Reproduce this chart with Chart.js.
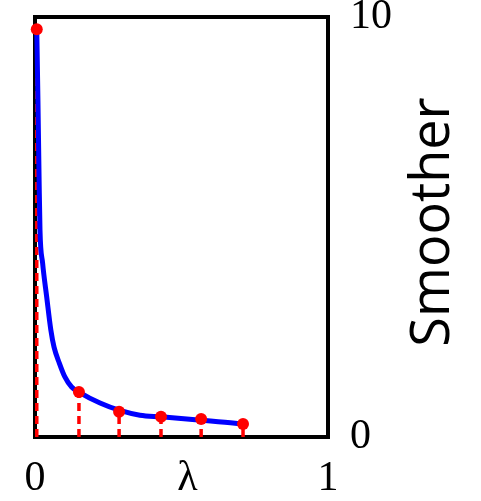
<!DOCTYPE html>
<html>
<head>
<meta charset="utf-8">
<script src="https://cdn.jsdelivr.net/npm/chart.js@4/dist/chart.umd.min.js"></script>
<style>
    html, body { margin: 0; padding: 0; background: #fff; }
    #wrap { width: 481px; height: 501px; }
</style>
</head>
<body>
<div id="wrap"><canvas id="chart"></canvas></div>
<script>
    // Sampled points (red markers with dashed drop lines)
    const pointX = [0.006, 0.15, 0.287, 0.43, 0.567, 0.71];
    const pointY = [9.71, 1.07, 0.60, 0.48, 0.43, 0.31];

    // Smoother curve (blue)
    const curveX = [0.006, 0.010, 0.014, 0.017, 0.026, 0.040, 0.054, 0.065, 0.083, 0.102, 0.125, 0.150, 0.222, 0.287, 0.358, 0.430, 0.567, 0.683, 0.710];
    const curveY = [9.71, 8.02, 6.12, 4.93, 4.14, 3.33, 2.55, 2.14, 1.76, 1.43, 1.19, 1.07, 0.81, 0.64, 0.52, 0.48, 0.40, 0.33, 0.31];

    // Tick labels
    const xTickValues = [0, 0.52, 1];
    const xTickLabels = ['0', 'λ', '1'];
    const yTickValues = [0, 10];
    const yTickLabels = ['0', '10'];
    const yTitle = 'Smoother';

    const points = pointX.map((x, i) => ({ x, y: pointY[i] }));
    const curve = curveX.map((x, i) => ({ x, y: curveY[i] }));
    const drops = [];
    pointX.forEach((x, i) => {
        drops.push({ x, y: 0 }, { x, y: pointY[i] }, { x, y: null });
    });

    const frame = {
        id: 'frame',
        beforeDatasetsDraw(chart) {
            const { ctx, chartArea: a } = chart;
            ctx.save();
            ctx.strokeStyle = '#000';
            ctx.lineWidth = 4;
            ctx.strokeRect(a.left, a.top, a.right - a.left, a.bottom - a.top);
            ctx.restore();
        },
        afterDraw(chart) {
            const { ctx } = chart;
            ctx.save();
            ctx.translate(434, 222);
            ctx.rotate(-Math.PI / 2);
            ctx.fillStyle = '#000';
            ctx.font = "54px 'Open Sans', sans-serif";
            ctx.textAlign = 'center';
            ctx.textBaseline = 'middle';
            ctx.fillText(yTitle, 0, 0);
            ctx.restore();
        }
    };

    const serif = { family: "'Liberation Serif', 'DejaVu Serif', serif", size: 42 };

    new Chart(document.getElementById('chart'), {
        type: 'scatter',
        data: {
            datasets: [
                {
                    data: points,
                    showLine: false,
                    pointRadius: 6,
                    pointBackgroundColor: '#ff0000',
                    pointBorderWidth: 0,
                    clip: false
                },
                {
                    data: curve,
                    showLine: true,
                    borderColor: '#0000ff',
                    borderWidth: 5,
                    pointRadius: 0,
                    cubicInterpolationMode: 'monotone',
                    clip: false
                },
                {
                    data: drops,
                    showLine: true,
                    spanGaps: false,
                    borderColor: '#ff0000',
                    borderWidth: 3.5,
                    borderDash: [8, 5],
                    pointRadius: 0,
                    clip: false
                }
            ]
        },
        options: {
            responsive: true,
            maintainAspectRatio: false,
            animation: false,
            layout: { padding: { left: 35, top: 17, right: 0, bottom: 0 } },
            plugins: { legend: { display: false }, tooltip: { enabled: false } },
            scales: {
                x: {
                    type: 'linear',
                    min: 0,
                    max: 1,
                    grid: { display: false, drawTicks: false },
                    border: { display: false },
                    afterBuildTicks: s => { s.ticks = xTickValues.map(v => ({ value: v })); },
                    afterFit: s => { s.height = 64; s.paddingLeft = 0; s.paddingRight = 0; },
                    ticks: {
                        color: '#000',
                        font: serif,
                        padding: 17,
                        maxRotation: 0,
                        autoSkip: false,
                        callback: v => xTickLabels[xTickValues.indexOf(v)]
                    }
                },
                y: {
                    type: 'linear',
                    position: 'right',
                    min: 0,
                    max: 10,
                    grid: { display: false, drawTicks: false },
                    border: { display: false },
                    afterBuildTicks: s => { s.ticks = yTickValues.map(v => ({ value: v })); },
                    afterFit: s => { s.width = 153; s.paddingTop = 0; s.paddingBottom = 0; },
                    ticks: {
                        color: '#000',
                        font: serif,
                        padding: 22,
                        autoSkip: false,
                        callback: v => yTickLabels[yTickValues.indexOf(v)]
                    }
                }
            }
        },
        plugins: [frame]
    });
</script>
</body>
</html>
